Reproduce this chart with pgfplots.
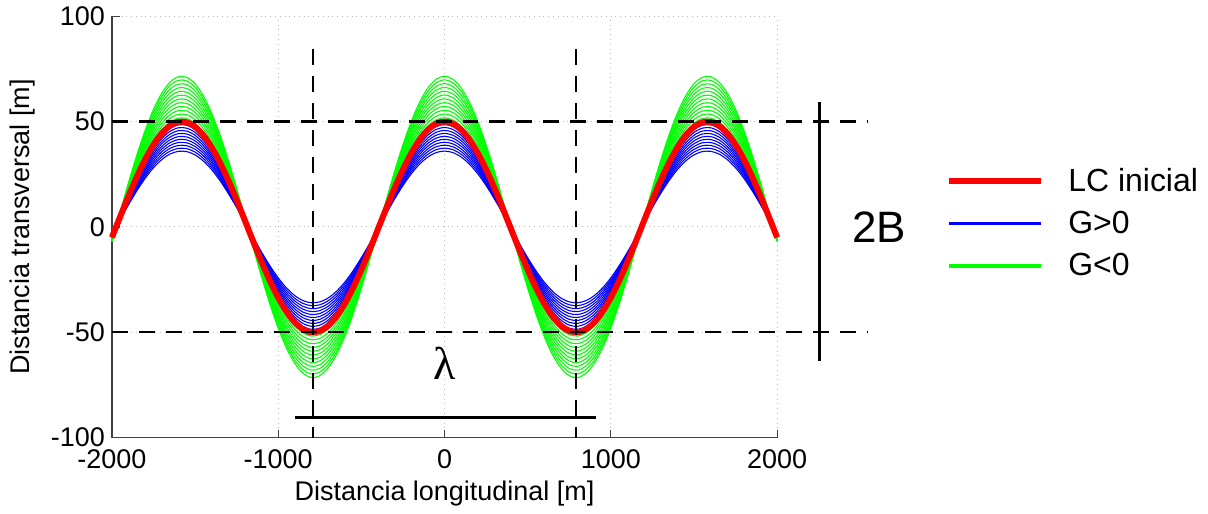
\documentclass[border=0pt]{standalone}
\usepackage{pgfplots}
\usepackage{pgfplotstable}
\pgfplotsset{compat=1.18}
\usepackage{fontspec}
\setmainfont{Liberation Sans}
\newfontfamily\serifgreek{Liberation Serif}

\pgfplotsset{longline/.style={legend image code/.code={\draw[##1] (0pt,0pt) -- (46pt,0pt);}}}

% normalised centre-line shape (amplitude 1)
\pgfplotstableread{
x c
-2000 -0.0993
-1950 0.0992
-1900 0.2939
-1850 0.4769
-1800 0.6411
-1750 0.7801
-1700 0.8883
-1650 0.9615
-1600 0.9968
-1550 0.9929
-1500 0.9498
-1450 0.8693
-1400 0.7545
-1350 0.6100
-1300 0.4416
-1250 0.2556
-1200 0.0596
-1150 -0.1388
-1100 -0.3316
-1050 -0.5114
-1000 -0.6711
-950 -0.8043
-900 -0.9059
-850 -0.9717
-800 -0.9992
-750 -0.9874
-700 -0.9366
-650 -0.8490
-600 -0.7279
-550 -0.5780
-500 -0.4056
-450 -0.2170
-400 -0.0199
-350 0.1780
-300 0.3689
-250 0.5452
-200 0.7001
-150 0.8273
-100 0.9220
-50 0.9803
0 1.0000
50 0.9803
100 0.9220
150 0.8273
200 0.7001
250 0.5452
300 0.3689
350 0.1780
400 -0.0199
450 -0.2170
500 -0.4056
550 -0.5780
600 -0.7279
650 -0.8490
700 -0.9366
750 -0.9874
800 -0.9992
850 -0.9717
900 -0.9059
950 -0.8043
1000 -0.6711
1050 -0.5114
1100 -0.3316
1150 -0.1388
1200 0.0596
1250 0.2556
1300 0.4416
1350 0.6100
1400 0.7545
1450 0.8693
1500 0.9498
1550 0.9929
1600 0.9968
1650 0.9615
1700 0.8883
1750 0.7801
1800 0.6411
1850 0.4769
1900 0.2939
1950 0.0992
2000 -0.0993
}\meander

\begin{document}
\begin{tikzpicture}
\begin{axis}[
    scale only axis,
    width=333pt, height=211pt,
    xmin=-2000, xmax=2000, ymin=-100, ymax=100,
    xtick={-2000,-1000,0,1000,2000},
    ytick={-100,-50,0,50,100},
    axis x line*=bottom, axis y line*=left,
    axis line style={black!75, line width=0.8pt},
    tick align=inside, major tick length=4pt,
    tick style={black!75, line width=0.6pt},
    grid=major,
    major grid style={gray!55, dotted, line width=0.5pt},
    /pgf/number format/1000 sep={},
    /pgf/number format/assume math mode=true,
    ticklabel style={font=\fontsize{13.5}{15}\selectfont},
    xticklabel style={yshift=-2.5pt},
    label style={font=\fontsize{13.5}{15}\selectfont},
    xlabel={Distancia longitudinal [m]},
    ylabel={Distancia transversal [m]},
    xlabel style={at={(axis description cs:0.5,-0.133)}, anchor=center},
    ylabel style={at={(axis description cs:-0.135,0.5)}, anchor=center},
    clip=false,
    longline,
    legend style={at={(rel axis cs:1.245,0.66)}, anchor=north west,
        draw=none, fill=none, font=\fontsize{16}{19}\selectfont,
        row sep=4.5pt},
    legend cell align=left,
    /tikz/every odd column/.append style={column sep=10pt},
]
\addlegendimage{red, line width=3pt}
\addlegendentry{LC inicial}
\addlegendimage{blue, line width=1.6pt}
\addlegendentry{G>0}
\addlegendimage{green, line width=1.6pt}
\addlegendentry{G<0}

% page extent
\addplot[draw=none, forget plot] coordinates {(-2673,-136) (4583,107.1)};

% G<0 family (growing amplitude)
\pgfplotsinvokeforeach{51.8,53.6,55.4,57.2,59.0,60.8,62.6,64.4,66.2,68.0,69.8,71.5}{
  \addplot[green, line width=0.55pt, smooth, forget plot] table[x=x, y expr=#1*\thisrow{c}] {\meander};
}
% G>0 family (decaying amplitude)
\pgfplotsinvokeforeach{48.6,47.2,45.8,44.4,43.0,41.6,40.2,38.8,37.4,36.0}{
  \addplot[blue, line width=0.55pt, smooth, forget plot] table[x=x, y expr=#1*\thisrow{c}] {\meander};
}
% initial centre line
\addplot[red, line width=3pt, smooth, forget plot] table[x=x, y expr=50*\thisrow{c}] {\meander};

% guides
\addplot[black, line width=1.1pt, dash pattern=on 8pt off 5.5pt, forget plot] coordinates {(-2000,50) (2541,50)};
\addplot[black, line width=1.1pt, dash pattern=on 8pt off 5.5pt, forget plot] coordinates {(-2000,-50) (2541,-50)};
\addplot[black, line width=1.1pt, dash pattern=on 8pt off 5.5pt, forget plot] coordinates {(-790,84.4) (-790,-100)};
\addplot[black, line width=1.1pt, dash pattern=on 8pt off 5.5pt, forget plot] coordinates {(790,84.4) (790,-100)};
\addplot[black, line width=1.5pt, forget plot] coordinates {(-901,-90.5) (913,-90.5)};
\addplot[black, line width=1.5pt, forget plot] coordinates {(2252,59.2) (2252,-63.5)};

\node[font=\fontsize{22}{24}\selectfont] at (axis cs:2613,0) {2B};
\node[font=\serifgreek\fontsize{23}{25}\selectfont] at (axis cs:0,-64.5) {λ};
\end{axis}
\end{tikzpicture}
\end{document}
